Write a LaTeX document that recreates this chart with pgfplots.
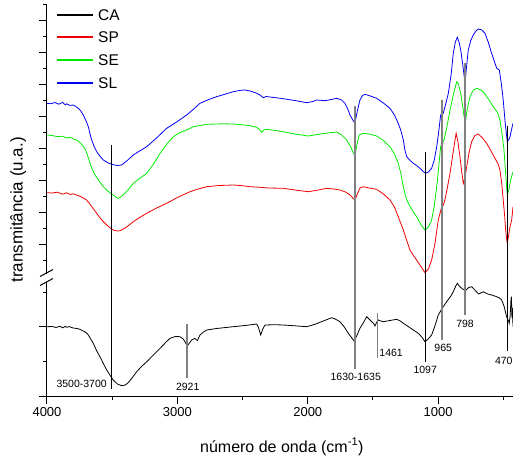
\documentclass[border=0pt]{standalone}
\usepackage{fontspec}
\setmainfont{Liberation Sans}
\usepackage{pgfplots}
\pgfplotsset{compat=1.18}
\definecolor{cgreen}{RGB}{0,235,0}
\definecolor{cred}{RGB}{240,0,0}
\definecolor{cblue}{RGB}{0,0,245}
\definecolor{cgray}{RGB}{128,128,128}
\begin{document}
\begin{tikzpicture}
\begin{axis}[
  at={(47pt,65pt)}, anchor=south west,
  scale only axis, width=466pt, height=391pt,
  x dir=reverse, xmin=426, xmax=4000, ymin=0, ymax=391,
  axis x line*=bottom, axis y line*=left,
  axis line style={line width=1pt},
  tick align=outside,
  major tick length=7.5pt, minor tick length=4pt,
  every tick/.style={black, line width=1pt},
  xtick={1000,2000,3000,4000}, minor xtick={500,1500,2500,3500},
  ytick={0,69.3,152,183.8,215.7,247.6,279.4,311.3,343.1,375},
  minor ytick={34.7,104,136,167.9,199.8,231.6,263.5,295.3,327.2,359.1,391},
  yticklabels={},
  /pgf/number format/assume math mode=true,
  /pgf/number format/set thousands separator={},
  xticklabel style={font=\fontsize{13}{13}\selectfont},
  clip mode=individual,
  xlabel={número de onda (cm\textsuperscript{-1})},
  ylabel={transmitância (u.a.)},
  xlabel style={at={(axis description cs:0.504,-0.130)}, anchor=center, font=\fontsize{16}{16}\selectfont},
  ylabel style={at={(axis description cs:-0.062,0.476)}, anchor=center, rotate=0, font=\fontsize{17}{17}\selectfont},
]
% CA
\addplot[black, line width=0.8pt] coordinates {
(4000,69.3)(3960,69.5)(3930,68.5)(3900,69.8)(3880,68.2)(3860,69.6)(3849,68.7)(3830,69.4)(3800,68)(3770,67.5)(3747,66.7)(3715,64.5)(3700,63.5)(3683,61)(3665,57)(3645,52.7)(3620,45.5)(3594,39.3)(3568,32.5)(3542,26)(3515,20.5)(3492,16)(3460,12)(3427,10.3)(3400,11)(3377,13.3)(3345,18.5)(3312,24.3)(3275,29.5)(3235,34.3)(3180,41.5)(3133,47.7)(3090,53.5)(3057,57.7)(3015,59.5)(2980,59.3)(2955,57)(2942,54.3)(2924,50)(2905,53.5)(2890,56)(2865,57.7)(2847,55.3)(2827,61)(2800,64)(2775,66)(2700,67.5)(2571,69.3)(2480,70.5)(2392,72)(2380,69.3)(2361,61)(2345,67)(2328,71)(2250,71.3)(2188,71)(2100,70.2)(2008,69.3)(1950,71.5)(1880,75)(1817,78.3)(1790,77)(1753,74.3)(1720,69)(1689,62.7)(1665,58.5)(1646,55.3)(1625,60)(1600,67.7)(1575,73)(1548,79.3)(1530,77)(1510,74.3)(1495,72.5)(1485,70)(1470,74)(1459,76)(1440,75)(1421,74.3)(1370,75.5)(1318,76.7)(1290,75)(1267,72.7)(1230,69.5)(1191,66)(1160,63.5)(1139,61)(1120,58)(1101,54.3)(1080,56.5)(1050,61)(1025,70)(999,81)(970,87.5)(935,94.3)(905,99.5)(884,104.3)(865,110)(853,112.7)(838,110)(820,107.7)(800,106)(787,106)(765,108.5)(743,109.3)(715,105.5)(690,102)(679,102.7)(654,104.3)(620,102)(590,101)(551,99.3)(530,98)(513,96)(495,90)(475,79.3)(460,75)(455,72.7)(448,80)(442,95)(438,99.3)(434,78)(430,88)(426,69.3)
};
% SP
\addplot[cred, line width=0.8pt] coordinates {
(4000,203.3)(3960,203)(3920,203.8)(3880,201.8)(3850,203.2)(3820,201.5)(3800,202.2)(3772,201)(3735,199)(3696,196)(3660,190)(3619,182.7)(3580,176)(3542,171)(3510,167.5)(3492,166)(3460,165)(3440,165.3)(3400,168)(3370,171)(3338,174.3)(3290,178.5)(3235,182.7)(3160,188)(3082,192.7)(3000,198.5)(2903,204.3)(2840,207)(2775,209.3)(2680,210.5)(2571,211)(2500,210.3)(2443,209.3)(2366,208.7)(2300,208)(2188,207.7)(2100,206)(1996,204.3)(1920,206)(1855,207.7)(1800,207)(1753,206)(1710,204)(1676,201)(1655,198)(1638,196)(1620,202)(1600,208)(1574,209.3)(1530,208)(1472,206.7)(1420,202)(1370,196)(1335,189)(1306,179.3)(1285,172)(1267,166)(1240,155)(1216,146)(1190,140.5)(1165,136)(1130,129)(1101,123.3)(1075,127)(1050,136)(1025,152)(999,176)(975,188)(961,191)(948,196)(930,208)(909,222.7)(885,244)(862,262.7)(848,254)(833,239.3)(820,225)(807,212.7)(795,218)(781,229.3)(762,244)(743,254.3)(718,260.5)(692,262)(660,258)(628,252.7)(595,245)(564,237.7)(540,232)(526,226)(512,212)(501,196)(490,180)(482,166)(476,158)(470,152.7)(460,160)(449,169.3)(436,176)(426,189.3)
};
% SE
\addplot[cgreen, line width=0.8pt] coordinates {
(4000,261)(3960,260.5)(3920,259.3)(3880,259.8)(3850,258)(3820,258.8)(3800,257)(3772,256)(3740,252.5)(3709,247.7)(3690,241)(3670,232.7)(3650,226)(3632,221)(3600,215)(3568,209.3)(3530,204.5)(3492,201)(3470,198.8)(3453,197.7)(3430,199.5)(3402,202.7)(3370,207.5)(3338,212.7)(3290,217.5)(3235,222.7)(3180,232.5)(3133,242.7)(3080,252)(3031,259.3)(2980,263.5)(2929,266)(2878,269.3)(2775,271.7)(2650,272.2)(2571,272)(2500,271.2)(2443,270.3)(2392,268.7)(2370,266.5)(2353,263.7)(2335,266.2)(2315,266.7)(2250,265.5)(2188,264.3)(2100,262)(1996,260)(1900,262)(1830,263.3)(1778,264)(1740,261)(1702,256)(1670,249)(1650,243)(1638,241)(1622,252)(1605,261)(1574,262.7)(1530,262)(1472,260)(1420,255.5)(1370,249.3)(1335,242)(1306,232.7)(1285,222)(1267,209.3)(1250,200)(1229,192.7)(1200,186)(1165,179.3)(1130,171)(1101,166)(1075,169)(1050,176)(1030,190)(1011,209.3)(995,230)(981,249.3)(968,253)(955,256)(935,268)(909,286)(880,303)(858,314.3)(845,312)(827,302.7)(810,288)(794,272.7)(775,288)(756,299.3)(730,306)(705,307.7)(680,306.5)(654,304.3)(615,297)(577,289.3)(545,283.5)(526,276)(510,262)(495,246)(482,222)(470,201)(458,206)(444,216)(426,224.3)
};
% SL
\addplot[cblue, line width=0.8pt] coordinates {
(4000,292.7)(3970,292.3)(3940,293.5)(3910,291.8)(3880,293.6)(3860,291.2)(3849,292.2)(3825,290.6)(3800,291)(3780,289.6)(3760,287.7)(3740,285)(3722,281)(3700,275)(3683,269.3)(3670,262)(3657,256)(3640,250)(3619,244.3)(3595,240)(3568,236)(3530,233)(3492,231.3)(3460,230.5)(3427,231)(3380,236)(3338,241)(3290,245)(3235,249.3)(3160,258)(3082,267.7)(3000,274.5)(2929,281)(2870,287.5)(2827,292.7)(2760,296.5)(2699,299.3)(2630,302)(2571,304.3)(2520,305.6)(2482,306)(2443,305)(2400,303.2)(2366,301)(2341,298.3)(2320,299.5)(2290,299)(2200,297.5)(2100,295.5)(2008,293.3)(1960,294.5)(1932,296)(1868,295.3)(1820,296.5)(1778,297.7)(1740,296)(1715,292.7)(1695,287.5)(1676,281)(1655,276)(1638,272.7)(1620,285)(1600,296)(1580,300.5)(1561,301.7)(1520,300)(1472,297.7)(1420,293)(1370,287.7)(1335,281)(1306,272.7)(1285,265)(1267,256)(1255,246)(1241,239.3)(1215,235.5)(1191,232.7)(1165,230.5)(1139,227.7)(1115,224.5)(1096,222.7)(1075,224)(1050,227.7)(1030,236)(1011,249.3)(995,265)(981,281)(971,282)(961,282.7)(942,292)(922,302.7)(900,322)(884,342.7)(868,354)(853,358.7)(840,354)(827,346)(810,330)(794,312.7)(782,330)(769,346)(750,355.5)(731,361)(710,365)(692,367)(665,366)(641,362.7)(615,353.5)(590,342.7)(570,335)(551,327.7)(531,326)(515,312)(501,296)(485,272)(470,254.3)(460,256)(449,259.3)(438,266)(426,272.7)
};
% marker lines
\addplot[black, line width=0.8pt] coordinates {(3505,251)(3505,6.7)};
\addplot[cgray, line width=1.6pt] coordinates {(2926,71.7)(2926,18.3)};
\addplot[cgray, line width=1.6pt] coordinates {(1638,290)(1638,27)};
\addplot[cgray, line width=1.6pt] coordinates {(1464,82.7)(1464,37.7)};
\addplot[black, line width=0.8pt] coordinates {(1099,244)(1099,34.3)};
\addplot[cgray, line width=1.6pt] coordinates {(971,296)(971,56)};
\addplot[cgray, line width=1.6pt] coordinates {(795,333.3)(795,81)};
\addplot[black, line width=0.8pt] coordinates {(470,270.3)(470,45.3)};
% labels
\begin{scope}[every node/.style={font=\fontsize{10.5}{10.5}\selectfont, inner sep=0pt}]
\node[anchor=east] at (axis cs:3540,12) {3500-3700};
\node at (axis cs:2921,9) {2921};
\node at (axis cs:1632,19.3) {1630-1635};
\node[anchor=west] at (axis cs:1452,42.7) {1461};
\node at (axis cs:1099,26) {1097};
\node at (axis cs:961,48.3) {965};
\node at (axis cs:794,71.7) {798};
\node[anchor=east] at (axis cs:428,35) {470};
\end{scope}
% axis break
\fill[white] ([xshift=-3pt]axis cs:4000,114.5) rectangle ([xshift=3pt]axis cs:4000,122.5);
\draw[black, line width=1pt] ([xshift=-7pt,yshift=-4pt]axis cs:4000,114.5) -- ([xshift=6pt,yshift=3pt]axis cs:4000,114.5);
\draw[black, line width=1pt] ([xshift=-7pt,yshift=-3pt]axis cs:4000,122.5) -- ([xshift=6pt,yshift=4pt]axis cs:4000,122.5);
\end{axis}
% legend, drawn by hand in picture coordinates
\begin{scope}[every node/.style={font=\fontsize{15.5}{15.5}\selectfont, inner sep=0pt, anchor=west}]
\draw[black, line width=1.2pt] (57pt,446pt) -- (93pt,446pt);
\node at (98pt,446pt) {CA};
\draw[cred, line width=1.6pt] (57pt,423.7pt) -- (93pt,423.7pt);
\node at (98pt,423.7pt) {SP};
\draw[cgreen, line width=1.6pt] (57pt,401pt) -- (93pt,401pt);
\node at (98pt,401pt) {SE};
\draw[cblue, line width=1.6pt] (57pt,377.7pt) -- (93pt,377.7pt);
\node at (98pt,377.7pt) {SL};
\end{scope}
\pgfresetboundingbox
\path[use as bounding box] (0,0) rectangle (513pt,461pt);
\end{tikzpicture}
\end{document}
